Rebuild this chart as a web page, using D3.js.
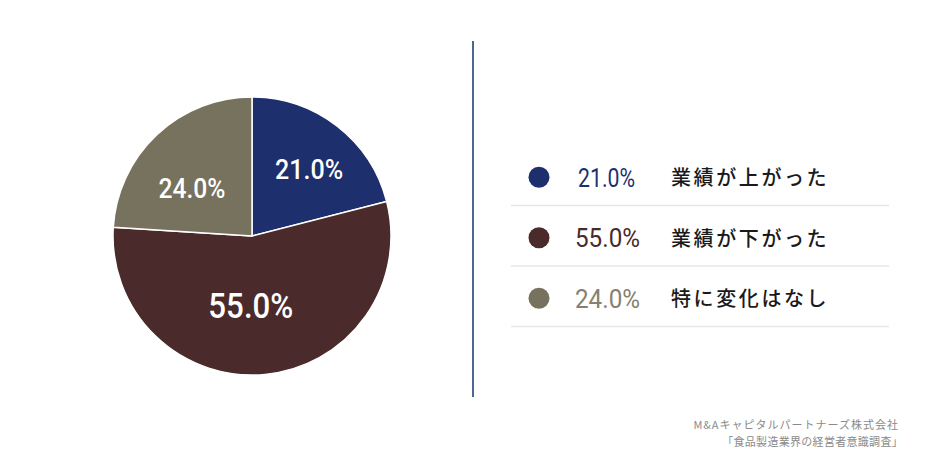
<!DOCTYPE html>
<html><head><meta charset="utf-8">
<script src="https://cdn.jsdelivr.net/npm/d3@7"></script>
<style>html,body{margin:0;padding:0;background:#fff;}svg{display:block;}</style>
</head><body>
<svg id="c" width="930" height="472"></svg>
<script>
const categories = ["業績が上がった", "業績が下がった", "特に変化はなし"];
const values = [21.0, 55.0, 24.0];
const colors = ["#1e2f6e", "#4a2a2b", "#77725e"];
const legendTextColors = ["#1e2f6e", "#4a2a2b", "#858170"];
const sourceLines = ["M&Aキャピタルパートナーズ株式会社", "「食品製造業界の経営者意識調査」"];

const svg = d3.select("#c");
const cx = 252, cy = 236, R = 139;
const fmt = v => v.toFixed(1) + "%";

const pie = d3.pie().sort(null).value(d => d);
const arcs = pie(values);
const arc = d3.arc().innerRadius(0).outerRadius(R);
const g = svg.append("g").attr("transform", `translate(${cx},${cy})`);
g.selectAll("path").data(arcs).join("path")
  .attr("d", arc).attr("fill", (d, i) => colors[i])
  .attr("stroke", "#fff").attr("stroke-width", 1.5).attr("stroke-linejoin", "round");

const labelArc = d3.arc().innerRadius(R * 0.6).outerRadius(R * 0.6);
const labelSizes = [28, 35, 27];
const labelWidths = [68, 85, 67];
const labelDy = [-1, -14, 13];
const labelDx = [6, -9, -3];
g.selectAll("text.pl").data(arcs).join("text").attr("class", "pl")
  .attr("x", (d, i) => labelArc.centroid(d)[0] + labelDx[i])
  .attr("y", (d, i) => labelArc.centroid(d)[1] + labelDy[i])
  .attr("dy", "0.36em")
  .attr("text-anchor", "middle")
  .attr("font-family", "Roboto, sans-serif").attr("font-weight", 500)
  .attr("font-size", (d, i) => labelSizes[i])
  .attr("textLength", (d, i) => labelWidths[i]).attr("lengthAdjust", "spacingAndGlyphs")
  .attr("fill", "#fff")
  .text(d => fmt(d.data));

// divider
svg.append("line").attr("x1", 473).attr("x2", 473).attr("y1", 41).attr("y2", 397)
  .attr("stroke", "#4c6890").attr("stroke-width", 2);

// legend
const ly = d3.scaleBand().domain(categories).range([147, 328.5]).paddingInner(0);
const lg = svg.append("g");
const row = lg.selectAll("g").data(categories).join("g")
  .attr("transform", d => `translate(0,${ly(d) + ly.bandwidth() / 2})`);
row.append("circle").attr("cx", 539).attr("cy", 0).attr("r", 10.5)
  .attr("fill", (d, i) => colors[i]);
row.append("text").attr("x", (d, i) => i === 0 ? 578 : 575).attr("y", 9.5)
  .attr("font-family", "Roboto, sans-serif").attr("font-weight", 400)
  .attr("font-size", 25)
  .attr("textLength", (d, i) => i === 0 ? 57 : 65).attr("lengthAdjust", "spacingAndGlyphs")
  .attr("fill", (d, i) => legendTextColors[i])
  .text((d, i) => fmt(values[i]));
row.append("text").attr("x", 671).attr("y", 8)
  .attr("font-family", "'Noto Sans CJK JP', sans-serif").attr("font-weight", 500)
  .attr("font-size", 20).attr("letter-spacing", 2.6)
  .attr("fill", "#1a1a1a")
  .text(d => d);
row.append("line").attr("x1", 511).attr("x2", 889)
  .attr("y1", ly.bandwidth() / 2 - 2).attr("y2", ly.bandwidth() / 2 - 2)
  .attr("stroke", "#e6e6e6").attr("stroke-width", 1.5);

// source
svg.append("g").selectAll("text").data(sourceLines).join("text")
  .attr("x", (d, i) => i === 0 ? 899 : 903)
  .attr("y", (d, i) => 429 + i * 17)
  .attr("text-anchor", "end")
  .attr("font-family", "'Noto Sans CJK JP', sans-serif")
  .attr("font-size", 11).attr("letter-spacing", (d, i) => i === 0 ? 1.0 : 0.3)
  .attr("fill", "#8a8a8a")
  .text(d => d);
</script>
</body></html>
